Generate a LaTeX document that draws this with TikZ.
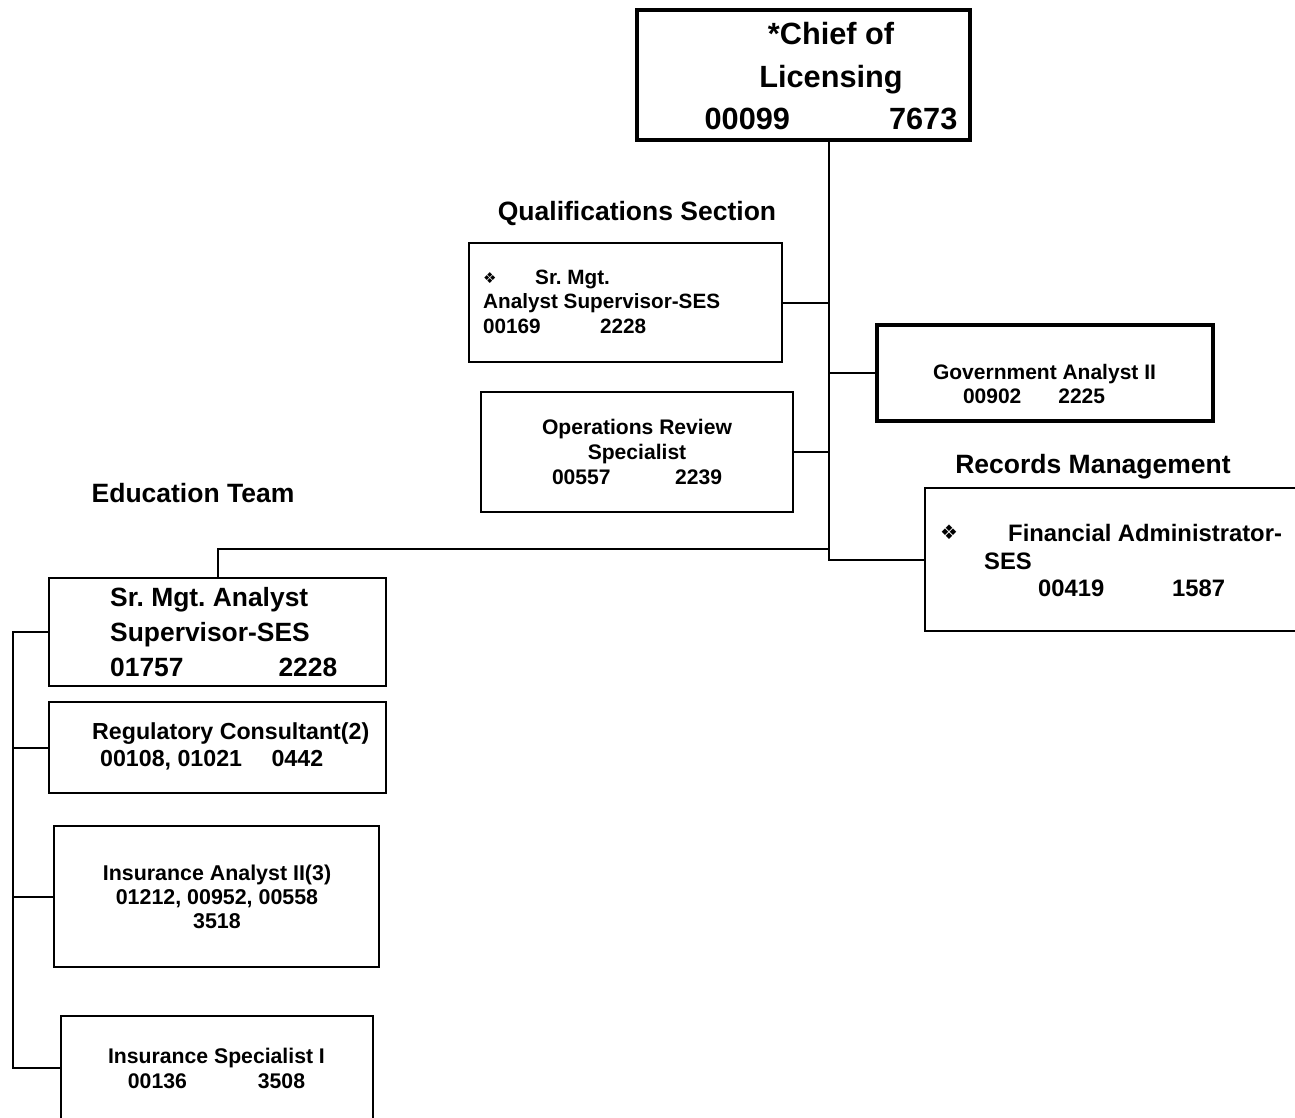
\documentclass[tikz,border=0pt]{standalone}
\usepackage{fontspec}
\setmainfont{Liberation Sans}
\newfontfamily\symfont{DejaVu Sans}
\frenchspacing
\newcommand{\smallmark}{\raisebox{1pt}{\symfont\fontsize{15}{15}\selectfont ❖}}
\newcommand{\bigmark}{\raisebox{2pt}{\symfont\fontsize{20}{20}\selectfont ❖}}
\begin{document}
\begin{tikzpicture}[x=1pt,y=-1pt,
  box/.style={draw, rectangle, line width=2pt, inner sep=0pt},
  heavybox/.style={box, line width=3.2pt},
  link/.style={line width=2pt},
  txt/.style={inner sep=0pt},
  fhead/.style={font=\bfseries\fontsize{26.5}{30}\selectfont},
  ftop/.style={font=\bfseries\fontsize{30.7}{42.5}\selectfont}]
\useasboundingbox (0,0) rectangle (1295,1117);
\clip (0,0) rectangle (1295,1117);

% boxes
\node[heavybox, minimum width=333pt, minimum height=130pt] (chief) at (803.5,75) {};
\node[box, minimum width=313pt, minimum height=119pt] (qual) at (625.5,302.5) {};
\node[box, minimum width=312pt, minimum height=120pt] (ops) at (637,452) {};
\node[heavybox, minimum width=336pt, minimum height=96pt] (gov) at (1045,373) {};
\node[box, minimum width=415pt, minimum height=143pt] (fin) at (1132.5,559.5) {};
\node[box, minimum width=337pt, minimum height=108pt] (smgt) at (217.5,632) {};
\node[box, minimum width=337pt, minimum height=91pt] (reg) at (217.5,747.5) {};
\node[box, minimum width=325pt, minimum height=141pt] (insa) at (216.5,896.5) {};
\node[box, minimum width=312pt, minimum height=104pt] (inss) at (217,1068) {};

% box texts
\node[txt, ftop, align=center] (chieft) at (831,76.5)
  {*Chief of\\Licensing\\00099\hspace{99pt}7673};
\node[txt, align=left, anchor=west, font=\bfseries\fontsize{20.7}{24.5}\selectfont] (qualt) at (483,301.5)
  {\makebox[52pt][l]{\smallmark}Sr. Mgt.\\Analyst Supervisor-SES\\\makebox[117pt][l]{00169}2228};
\node[txt, align=center, font=\bfseries\fontsize{21.1}{25}\selectfont] (opst) at (637,452)
  {Operations Review\\Specialist\\00557\hspace{64.4pt}2239};
\node[txt, align=center, font=\bfseries\fontsize{21}{24}\selectfont] (govt) at (1044.5,384)
  {Government Analyst II\\\makebox[163pt][l]{00902\hspace{37pt}2225}};
\node[txt, align=left, anchor=west, font=\bfseries\fontsize{23.8}{27.5}\selectfont] (fint) at (940,560.5)
  {\makebox[68pt][l]{\bigmark}Financial Administrator-\\\hspace*{44pt}SES\\\hspace*{98pt}\makebox[134pt][l]{00419}1587};
\node[txt, align=left, anchor=west, font=\bfseries\fontsize{26.4}{35}\selectfont] (smgtt) at (110,632)
  {Sr. Mgt. Analyst\\Supervisor-SES\\\makebox[168.3pt][l]{01757}2228};
\node[txt, align=left, anchor=west, font=\bfseries\fontsize{23.2}{27}\selectfont] (regt) at (92,746.5)
  {Regulatory Consultant(2)\\\hspace*{8pt}\makebox[171.4pt][l]{00108, 01021}0442};
\node[txt, align=center, font=\bfseries\fontsize{21.4}{24}\selectfont] (insat) at (217,897)
  {Insurance Analyst II(3)\\01212, 00952, 00558\\3518};
\node[txt, align=center, font=\bfseries\fontsize{21.2}{25}\selectfont] (insst) at (216.5,1068.5)
  {Insurance Specialist I\\00136\hspace{71pt}3508};

% section headings
\node[txt, fhead, anchor=base] (qualhead) at (637,220) {Qualifications Section};
\node[txt, fhead, anchor=base] (rechead) at (1093,473) {Records Management};
\node[txt, fhead, anchor=base] (eduhead) at (193,502) {Education Team};

% connectors
\coordinate (tb) at (829,559.5);
\coordinate (ej) at (829,548.5);
\coordinate (ls) at (13,632);
\draw[link] (chief.south -| tb) -- (tb) -- (fin.west);
\draw[link] (qual.east) -- (qual.east -| tb);
\draw[link] (ops.east) -- (ops.east -| tb);
\draw[link] (gov.west) -- (gov.west -| tb);
\draw[link] (ej) -- (smgt.north |- ej) -- (smgt.north);
\draw[link] (smgt.west) -- (smgt.west -| ls) -- (inss.west -| ls) -- (inss.west);
\draw[link] (reg.west) -- (reg.west -| ls);
\draw[link] (insa.west) -- (insa.west -| ls);
\end{tikzpicture}
\end{document}
